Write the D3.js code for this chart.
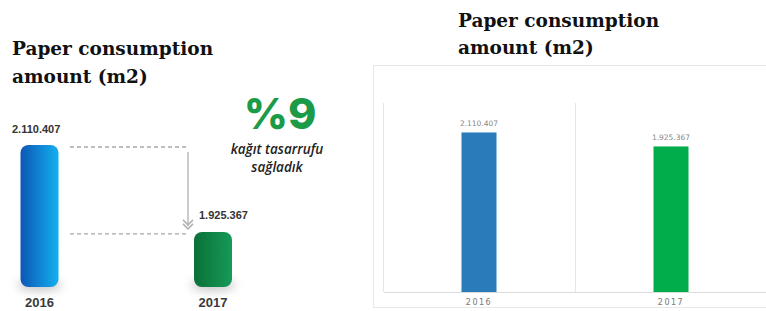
<!DOCTYPE html>
<html lang="en">
<head>
<meta charset="utf-8">
<title>Paper consumption</title>
<script src="https://d3js.org/d3.v7.min.js"></script>
<style>
body { margin: 0; background: #fff; }
.title { font-family: "DejaVu Serif", serif; font-weight: bold; font-size: 18.5px; fill: #111; }
.axis path, .axis line { fill: none; stroke: #dcdcdc; shape-rendering: crispEdges; }
.axis text { font-family: "DejaVu Sans", sans-serif; font-size: 8px; fill: #777; letter-spacing: 1.5px; }
</style>
</head>
<body>
<script>
// data
var years = ["2016", "2017"];
var consumption = [2110407, 1925367];
var valueLabels = ["2.110.407", "1.925.367"];
var savingText = ["%9", "kağıt tasarrufu", "sağladık"];
var titleLines = ["Paper consumption", "amount (m2)"];

var w = 766, h = 311;

var svg = d3.select("body").append("svg")
    .attr("width", w)
    .attr("height", h);

var defs = svg.append("defs");
var g1 = defs.append("linearGradient").attr("id", "gBlue");
g1.append("stop").attr("offset", "0%").attr("stop-color", "#0d57b5");
g1.append("stop").attr("offset", "100%").attr("stop-color", "#13b0ee");
var g2 = defs.append("linearGradient").attr("id", "gGreen");
g2.append("stop").attr("offset", "0%").attr("stop-color", "#0b7038");
g2.append("stop").attr("offset", "100%").attr("stop-color", "#159a57");
defs.append("filter").attr("id", "blur")
    .attr("x", "-50%").attr("y", "-50%").attr("width", "200%").attr("height", "200%")
    .append("feGaussianBlur").attr("stdDeviation", 5);

// ---------- left panel (infographic) ----------
var left = svg.append("g");

left.selectAll("text.title")
    .data(titleLines)
    .enter()
    .append("text")
    .attr("class", "title")
    .attr("x", 12)
    .attr("y", function(d, i) { return 55 + i * 28; })
    .text(function(d) { return d; });

var xL = d3.scalePoint()
    .domain(years)
    .range([39.5, 213])
    .padding(0);

// stylized, truncated scale as in the picture
var yL = d3.scaleLinear()
    .domain([1808000, 2110407])
    .range([287, 145]);

var barW = 38;

// soft shadow under bars
left.selectAll("ellipse.shadow")
    .data(consumption)
    .enter()
    .append("ellipse")
    .attr("cx", function(d, i) { return xL(years[i]); })
    .attr("cy", 285)
    .attr("rx", 22)
    .attr("ry", 6)
    .attr("fill", "#999")
    .attr("opacity", 0.55)
    .attr("filter", "url(#blur)");

left.selectAll("rect.bar")
    .data(consumption)
    .enter()
    .append("rect")
    .attr("x", function(d, i) { return xL(years[i]) - barW / 2; })
    .attr("y", function(d) { return yL(d); })
    .attr("width", barW)
    .attr("height", function(d) { return yL.range()[0] - yL(d); })
    .attr("rx", 8)
    .attr("fill", function(d, i) { return i == 0 ? "url(#gBlue)" : "url(#gGreen)"; });

// dashed guides
left.selectAll("line.guide")
    .data(consumption)
    .enter()
    .append("line")
    .attr("x1", 70)
    .attr("x2", 188)
    .attr("y1", function(d) { return yL(d) + 2; })
    .attr("y2", function(d) { return yL(d) + 2; })
    .attr("stroke", "#a8a8a8")
    .attr("stroke-width", 1.3)
    .attr("stroke-dasharray", "4,3");

// arrow
var ax = 188;
left.append("line")
    .attr("x1", ax).attr("x2", ax)
    .attr("y1", yL(consumption[0]) + 7)
    .attr("y2", yL(consumption[1]) - 6)
    .attr("stroke", "#b0b0b0")
    .attr("stroke-width", 1.3);
[0, 4].forEach(function(o) {
  var yy = yL(consumption[1]) - 12 + o;
  left.append("path")
      .attr("d", "M" + (ax - 5) + "," + yy + " L" + ax + "," + (yy + 5) + " L" + (ax + 5) + "," + yy)
      .attr("fill", "none")
      .attr("stroke", "#b0b0b0")
      .attr("stroke-width", 1.5);
});

left.selectAll("text.val")
    .data(consumption)
    .enter()
    .append("text")
    .attr("x", function(d, i) { return i == 0 ? 12 : 199; })
    .attr("y", function(d, i) { return i == 0 ? yL(d) - 12 : yL(d) - 13; })
    .attr("font-family", "Liberation Sans, sans-serif")
    .attr("font-weight", "bold")
    .attr("font-size", "11px")
    .attr("fill", "#333")
    .text(function(d, i) { return valueLabels[i]; });

left.selectAll("text.year")
    .data(years)
    .enter()
    .append("text")
    .attr("x", function(d) { return xL(d); })
    .attr("y", 307)
    .attr("text-anchor", "middle")
    .attr("font-family", "Liberation Sans, sans-serif")
    .attr("font-weight", "bold")
    .attr("font-size", "13px")
    .attr("fill", "#3a3a3a")
    .text(function(d) { return d; });

left.append("text")
    .attr("x", 280)
    .attr("y", 129)
    .attr("text-anchor", "middle")
    .attr("font-family", "Inter, sans-serif")
    .attr("font-weight", 800)
    .attr("font-size", "43px")
    .attr("fill", "#1b9a48")
    .text(savingText[0]);

left.selectAll("text.sav")
    .data(savingText.slice(1))
    .enter()
    .append("text")
    .attr("x", 277)
    .attr("y", function(d, i) { return 154 + i * 18; })
    .attr("text-anchor", "middle")
    .attr("font-family", "Open Sans, sans-serif")
    .attr("font-style", "italic")
    .attr("font-weight", 600)
    .attr("font-size", "13.5px")
    .attr("fill", "#222")
    .text(function(d) { return d; });

// ---------- right panel (plain bar chart) ----------
var right = svg.append("g");

right.selectAll("text.title")
    .data(titleLines)
    .enter()
    .append("text")
    .attr("class", "title")
    .attr("x", 458)
    .attr("y", function(d, i) { return 27 + i * 27; })
    .text(function(d) { return d; });

right.append("rect")
    .attr("x", 373.5)
    .attr("y", 65.5)
    .attr("width", 400)
    .attr("height", 242)
    .attr("fill", "none")
    .attr("stroke", "#e8e8e8");

var xR = d3.scaleBand()
    .domain(years)
    .range([383, 767]);

var yR = d3.scaleLinear()
    .domain([0, 2500000])
    .range([292, 103]);

// vertical separators
right.selectAll("line.sep")
    .data(years.concat(["end"]))
    .enter()
    .append("line")
    .attr("x1", function(d, i) { return 383.5 + i * xR.bandwidth(); })
    .attr("x2", function(d, i) { return 383.5 + i * xR.bandwidth(); })
    .attr("y1", 103)
    .attr("y2", 292)
    .attr("stroke", "#e6e6e6");

var bw = 35;
right.selectAll("rect.bar")
    .data(consumption)
    .enter()
    .append("rect")
    .attr("x", function(d, i) { return xR(years[i]) + xR.bandwidth() / 2 - bw / 2; })
    .attr("y", function(d) { return yR(d); })
    .attr("width", bw)
    .attr("height", function(d) { return yR(0) - yR(d); })
    .attr("fill", function(d, i) { return i == 0 ? "#2a7bba" : "#00ad4a"; });

right.selectAll("text.val")
    .data(consumption)
    .enter()
    .append("text")
    .attr("x", function(d, i) { return xR(years[i]) + xR.bandwidth() / 2; })
    .attr("y", function(d) { return yR(d) - 6; })
    .attr("text-anchor", "middle")
    .attr("font-family", "DejaVu Sans, sans-serif")
    .attr("font-size", "7.5px")
    .attr("fill", "#888")
    .text(function(d, i) { return valueLabels[i]; });

var xAxis = d3.axisBottom(xR).tickSize(0).tickPadding(7);
right.append("g")
    .attr("class", "axis")
    .attr("transform", "translate(0,292)")
    .call(xAxis);
</script>
</body>
</html>
